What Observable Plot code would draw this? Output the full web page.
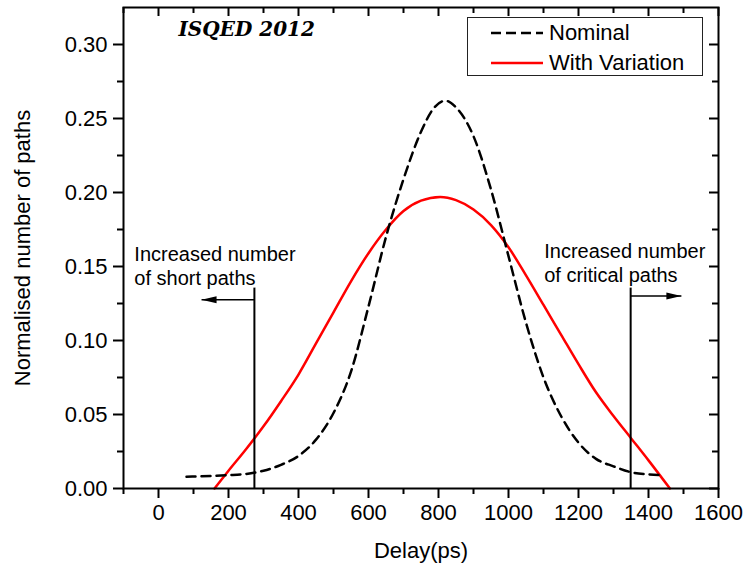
<!DOCTYPE html>
<html><head><meta charset="utf-8">
<script src="https://cdn.jsdelivr.net/npm/d3@7"></script>
<script src="https://cdn.jsdelivr.net/npm/@observablehq/plot@0.6"></script>
<style>
html,body{margin:0;padding:0;background:#fff;}
#wrap{position:relative;width:745px;height:569px;font-family:"Liberation Sans",Arial,sans-serif;}
#legend{position:absolute;left:467px;top:17px;width:236px;height:59px;box-sizing:border-box;border:1.5px solid #222;background:#fff;}
.item{position:absolute;left:0;height:30px;width:100%;}
.item svg{position:absolute;left:22px;top:0;}
.item span{position:absolute;left:81px;top:0;line-height:30px;font-size:22px;color:#000;white-space:nowrap;}
</style></head><body><div id="wrap"></div>
<script>
// ---- data ----
const nominalDelay = [80,150,200,250,300,350,400,450,500,550,600,650,700,750,785,820,850,900,950,1000,1050,1100,1150,1200,1250,1300,1350,1400,1440];
const nominalValue = [0.008,0.0085,0.009,0.0098,0.012,0.016,0.022,0.033,0.051,0.079,0.123,0.170,0.209,0.241,0.2565,0.262,0.2575,0.238,0.202,0.157,0.112,0.075,0.049,0.031,0.020,0.015,0.011,0.0095,0.009];

const variationDelay = [160,200,250,300,350,400,450,500,550,600,650,700,750,805,850,900,950,1000,1050,1100,1150,1200,1250,1300,1350,1400,1461];
const variationValue = [0,0.012,0.0265,0.042,0.059,0.077,0.098,0.119,0.140,0.159,0.175,0.1875,0.1945,0.197,0.1948,0.1885,0.178,0.163,0.144,0.124,0.104,0.084,0.065,0.049,0.034,0.019,0];

const seriesNames = ["Nominal", "With Variation"];

const xMajor = [0,200,400,600,800,1000,1200,1400,1600];
const xMinor = [-100,100,300,500,700,900,1100,1300,1500];
const yMajor = [0,0.05,0.10,0.15,0.20,0.25,0.30];
const yMinor = [0.025,0.075,0.125,0.175,0.225,0.275];

const markerDelay = [274, 1349];
const markerTop = 0.1354;
const arrowFrom = [274, 1349];
const arrowTo = [123, 1494];
const arrowLevel = [0.1275, 0.130];

const annotationX = [-69, 1102];
const annotationY = [0.1508, 0.1528];
const annotationText = ["Increased number\nof short paths", "Increased number\nof critical paths"];

const titleText = "ISQED 2012";
const xLabel = "Delay(ps)";
const yLabel = "Normalised number of paths";

// ---- build ----
const W = 745, H = 569, mL = 123, mR = 27, mT = 7, mB = 81;
const plotW = W - mL - mR, plotH = H - mT - mB;
const nominal = nominalDelay.map((x, i) => ({x, y: nominalValue[i]}));
const variation = variationDelay.map((x, i) => ({x, y: variationValue[i]}));
const arrows = arrowFrom.map((f, i) => ({from: f, to: arrowTo[i], y: arrowLevel[i]}));
const annotations = annotationX.map((x, i) => ({x, y: annotationY[i], text: annotationText[i]}));
const slimTriangle = {draw(ctx) { ctx.moveTo(0, 0); ctx.lineTo(-15, -3.5); ctx.lineTo(-15, 3.5); ctx.closePath(); }};
const font = '"Liberation Sans", Arial, sans-serif';

const chart = Plot.plot({
  width: W, height: H,
  marginLeft: mL, marginRight: mR, marginTop: mT, marginBottom: mB,
  x: {domain: [-100, 1600]},
  y: {domain: [0, 0.325]},
  style: {fontFamily: font, fontSize: "22px", color: "#000", background: "#fff"},
  marks: [
    Plot.axisX(xMajor, {tickSize: 10, tickPadding: 6, strokeWidth: 2, label: null, tickFormat: d => String(d), fontSize: 22}),
    Plot.axisX(xMinor, {tickSize: 6, strokeWidth: 2, label: null, tickFormat: () => ""}),
    Plot.axisY(yMajor, {tickSize: 10, tickPadding: 6, strokeWidth: 2, label: null, tickFormat: d3.format(".2f"), fontSize: 22}),
    Plot.axisY(yMinor, {tickSize: 6, strokeWidth: 2, label: null, tickFormat: () => ""}),
    Plot.tickX(xMajor, {x: d => d, insetBottom: plotH - 9, strokeWidth: 2}),
    Plot.tickX(xMinor, {x: d => d, insetBottom: plotH - 6, strokeWidth: 2}),
    Plot.tickY(yMajor, {y: d => d, insetLeft: plotW - 9, strokeWidth: 2}),
    Plot.tickY(yMinor, {y: d => d, insetLeft: plotW - 6, strokeWidth: 2}),
    Plot.line(variation, {x: "x", y: "y", stroke: "#ff0000", strokeWidth: 2.5, curve: "monotone-x"}),
    Plot.line(nominal, {x: "x", y: "y", stroke: "#000", strokeWidth: 2.5, strokeDasharray: "9,6", curve: "monotone-x"}),
    Plot.ruleX(markerDelay, {x: d => d, y1: 0, y2: markerTop, strokeWidth: 2, stroke: "#000"}),
    Plot.link(arrows, {x1: "from", x2: "to", y1: "y", y2: "y", strokeWidth: 1.5, stroke: "#000"}),
    Plot.dot(arrows, {x: "to", y: "y", symbol: slimTriangle, fill: "#000", stroke: null, rotate: d => d.to < d.from ? 180 : 0}),
    Plot.text(annotations, {x: "x", y: "y", text: "text", textAnchor: "start", lineAnchor: "middle", lineHeight: 1.2, fontSize: 20, fill: "#000"}),
    Plot.text([titleText], {frameAnchor: "top-left", dx: 55, dy: 22, textAnchor: "start", lineAnchor: "middle", fontFamily: '"DejaVu Serif", serif', fontWeight: "bold", fontStyle: "italic", fontSize: 20, fill: "#000"}),
    Plot.text([xLabel], {frameAnchor: "bottom", dy: 62, textAnchor: "middle", lineAnchor: "middle", fontSize: 22, fill: "#000"}),
    Plot.text([yLabel], {frameAnchor: "left", dx: -101, rotate: -90, textAnchor: "middle", lineAnchor: "middle", fontSize: 22, fill: "#000"}),
    Plot.frame({strokeWidth: 2, stroke: "#000"})
  ]
});

const wrap = document.getElementById("wrap");
wrap.appendChild(chart);

// legend
const legend = document.createElement("div");
legend.id = "legend";
const styles = [{stroke: "#000", dash: "10,5"}, {stroke: "#ff0000", dash: null}];
seriesNames.forEach((name, i) => {
  const item = document.createElement("div");
  item.className = "item";
  item.style.top = (i * 30) + "px";
  const s = styles[i];
  item.innerHTML = `<svg width="54" height="30"><line x1="1" x2="53" y1="15" y2="15" stroke="${s.stroke}" stroke-width="2.5" ${s.dash ? `stroke-dasharray="${s.dash}"` : ""}/></svg><span>${name}</span>`;
  legend.appendChild(item);
});
wrap.appendChild(legend);
</script></body></html>
